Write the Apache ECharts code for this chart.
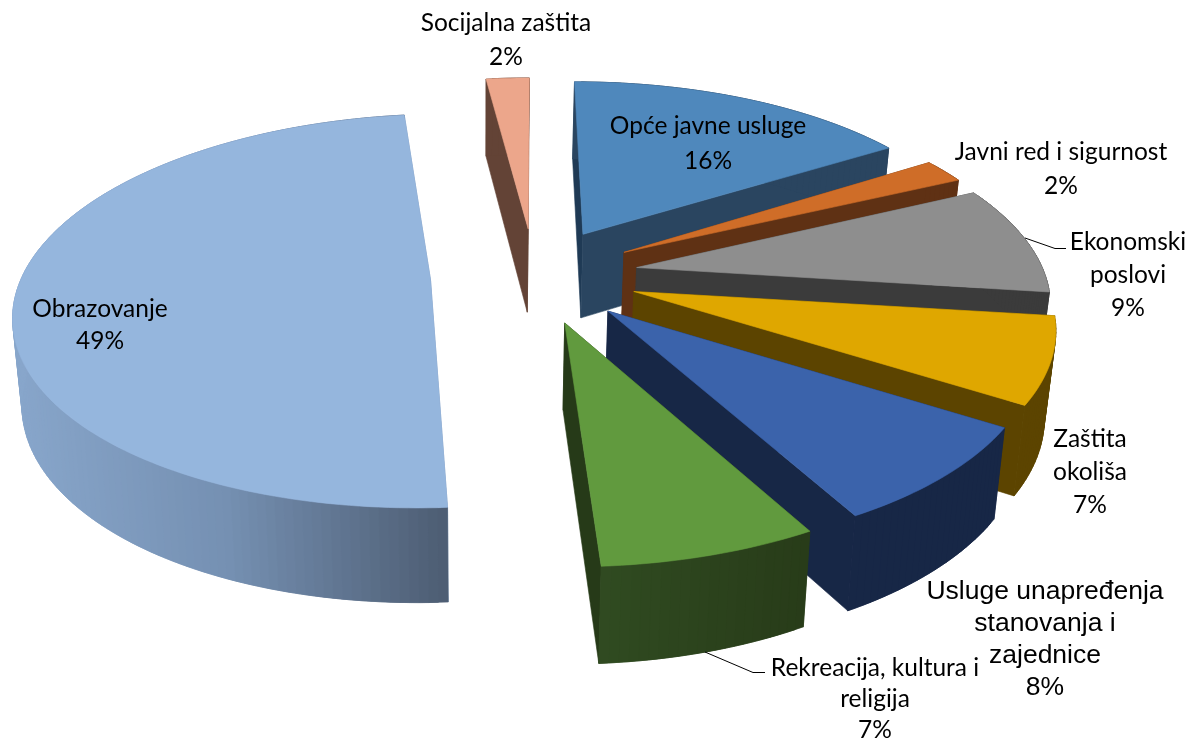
<!DOCTYPE html>
<html>
<head>
<meta charset="utf-8">
<title>Pie</title>
<style>
    html, body { margin: 0; padding: 0; background: #fff; }
    #main { width: 1192px; height: 743px; }
</style>
<script src="https://cdn.jsdelivr.net/npm/echarts@6/dist/echarts.min.js"></script>
</head>
<body>
<div id="main"></div>
<script>
// podaci, redom kojim ide pita (od 12 sati u smjeru kazaljke)
var categories = ['Opće javne usluge', 'Javni red i sigurnost', 'Ekonomski poslovi', 'Zaštita okoliša',
    'Usluge unapređenja stanovanja i zajednice', 'Rekreacija, kultura i religija', 'Obrazovanje', 'Socijalna zaštita'];
var values = [16, 2, 9, 7, 8, 7, 49, 2];
var labelLines = [
    ['Opće javne usluge'], ['Javni red i sigurnost'], ['Ekonomski', 'poslovi'], ['Zaštita', 'okoliša'],
    ['Usluge unapređenja', 'stanovanja i', 'zajednice'], ['Rekreacija, kultura i', 'religija'], ['Obrazovanje'], ['Socijalna zaštita']
];

// boje
var topColors = ['#4F88BC', '#CF6D28', '#8E8E8E', '#DFA700', '#3B63AB', '#619A3E', '#95B6DD', '#ECA68B'];
var wallColors = ['#2A4560', '#5F3114', '#3B3B3B', '#5C4400', '#172746', '#2A3F1B', '#7C98BB', '#634336'];

// izgled: "3D" projekcija ravnine pite
var CX = 534.5, CY = 275, AX = 413, BY = 190.5, PERSP = 0.16, EXPLODE = 0.24, APEX_EXPLODE = 0.252;
var labelPos = [[708, 144], [1061, 169], [1128, 275], [1090, 472], [1045, 640], [875, 699], [100, 325], [506, 40]];
var labelFont = ['Lato', 'Lato', 'Lato', 'Lato', 'Liberation Sans', 'Lato', 'Lato', 'Lato'];
var labelSize = [24.5, 24.5, 24.5, 24.5, 26.5, 24.5, 24.5, 24.5];
var labelHeight = [35, 34, 33, 33, 32, 31, 32, 34];

var total = values.reduce(function (a, b) { return a + b; }, 0);

// ravnina -> ekran
function project(u, v) {
    var w = 1 + PERSP * v;
    return [CX + AX * u / w, CY - BY * v / w];
}
// donji rub kriske, okomice se malo skupljaju prema dolje
function lower(p) {
    return [p[0] - (p[0] - 480) * 0.02, p[1] + 77 + (p[1] - 76) * 0.041];
}

function renderSlice(params, api) {
    var i = params.dataIndex;
    var before = 0;
    for (var k = 0; k < i; k++) before += values[k];
    var a0 = before / total * Math.PI * 2;
    var a1 = (before + api.value(0)) / total * Math.PI * 2;
    var mid = (a0 + a1) / 2;
    var ou = EXPLODE * Math.sin(mid), ov = EXPLODE * Math.cos(mid);

    var apex = project(APEX_EXPLODE * Math.sin(mid), APEX_EXPLODE * Math.cos(mid));
    var rim = [];
    var steps = Math.max(2, Math.ceil((a1 - a0) / 0.02));
    for (var s = 0; s <= steps; s++) {
        var t = a0 + (a1 - a0) * s / steps;
        rim.push(project(ou + Math.sin(t), ov + Math.cos(t)));
    }
    var wall = wallColors[i];
    var last = rim.length - 1;

    function poly(points, fill) {
        return {
            type: 'polygon',
            shape: { points: points },
            style: { fill: fill, stroke: fill, lineWidth: 0.6 }
        };
    }
    // boja vanjskog zida, sjena ide slijeva nadesno
    function rimColor(x) {
        if (i === 6) return echarts.color.lerp(Math.min(1, Math.max(0, (x - 12) / 434)), ['#88A6CB', '#7590B2', '#4E5E74']);
        if (i === 5) return echarts.color.lerp(Math.min(1, Math.max(0, (x - 603) / 206)), ['#304B21', '#283C19']);
        return wall;
    }

    var children = [
        poly([apex, rim[0], lower(rim[0]), lower(apex)], i === 0 ? '#1F3A55' : wall),
        poly([apex, rim[last], lower(rim[last]), lower(apex)], i === 5 ? '#263A18' : wall)
    ];
    // zid po komadima koji se preklapaju, da obris ostane ravan i bez pruga
    for (var q = 0; q < last; q++) {
        var e = Math.min(q + 2, last);
        children.push(poly([rim[q], rim[q + 1], rim[e], lower(rim[e]), lower(rim[q + 1]), lower(rim[q])], rimColor(rim[q][0])));
    }
    children.push(poly([apex].concat(rim), topColors[i]));
    return { type: 'group', children: children };
}

var chart = echarts.init(document.getElementById('main'));

var labels = categories.map(function (name, i) {
    return {
        type: 'text',
        z: 10,
        x: labelPos[i][0],
        y: labelPos[i][1],
        style: {
            text: labelLines[i].concat(values[i] + '%').join('\n'),
            font: labelSize[i] + 'px "' + labelFont[i] + '", sans-serif',
            fill: '#000',
            align: 'center',
            verticalAlign: 'middle',
            lineHeight: labelHeight[i]
        }
    };
});

// linije do natpisa
var leaders = [
    [[1025, 238], [1055, 248.5], [1066, 248.5]],
    [[705, 652], [753, 672.5], [765, 672.5]]
].map(function (pts) {
    return {
        type: 'polyline',
        z: 9,
        shape: { points: pts },
        style: { stroke: '#000', lineWidth: 1, fill: null }
    };
});

var option = {
    animation: false,
    backgroundColor: '#fff',
    graphic: labels.concat(leaders),
    series: [{
        type: 'custom',
        coordinateSystem: 'none',
        renderItem: renderSlice,
        data: values.map(function (v, i) { return { name: categories[i], value: [v] }; })
    }]
};
chart.setOption(option);
</script>
</body>
</html>
